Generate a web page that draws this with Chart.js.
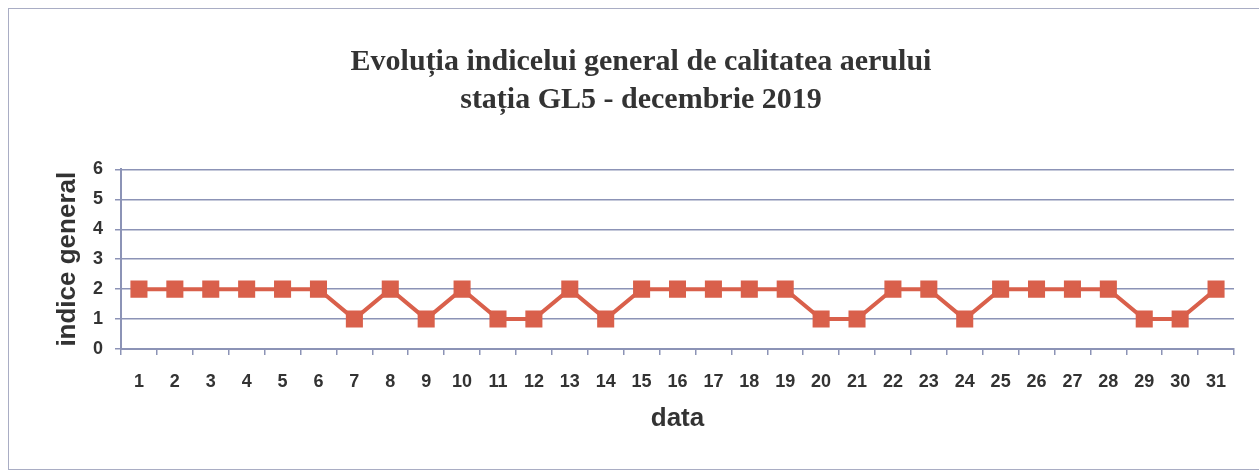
<!DOCTYPE html>
<html>
<head>
<meta charset="utf-8">
<script src="https://cdn.jsdelivr.net/npm/chart.js@4/dist/chart.umd.min.js"></script>
<style>
    body { margin: 0; background: #fff; overflow: hidden; }
    .frame {
        position: absolute;
        left: 8px;
        top: 8px;
        width: 1262px;
        height: 460px;
        border: 1px solid #a9adc4;
    }
</style>
</head>
<body>
<div class="frame"><canvas id="chart" width="1262" height="460"></canvas></div>
<script>
const days = ["1", "2", "3", "4", "5", "6", "7", "8", "9", "10", "11", "12", "13", "14", "15", "16",
    "17", "18", "19", "20", "21", "22", "23", "24", "25", "26", "27", "28", "29", "30", "31"];
const indiceGeneral = [2, 2, 2, 2, 2, 2, 1, 2, 1, 2, 1, 1, 2, 1, 2, 2,
    2, 2, 2, 1, 1, 2, 2, 1, 2, 2, 2, 2, 1, 1, 2];
const titleLines = ["Evoluția indicelui general de calitatea aerului", "stația GL5 - decembrie 2019"];

const gridColor = '#8c93b6';
const textColor = '#333333';
const lineColor = '#d9604b';

const ctx = document.getElementById('chart');

// left padding only serves to center the title like the original
new Chart(ctx, {
    type: 'line',
    data: {
        labels: days,
        datasets: [{
            label: 'indice general',
            data: indiceGeneral,
            borderColor: lineColor,
            backgroundColor: lineColor,
            borderWidth: 4,
            pointStyle: 'rect',
            pointRadius: 11,
            pointHoverRadius: 11,
            pointBorderWidth: 1.5,
            tension: 0
        }]
    },
    options: {
        responsive: false,
        animation: false,
        layout: { padding: { left: 39, right: 37, top: 0, bottom: 0 } },
        plugins: {
            legend: { display: false },
            tooltip: { enabled: false },
            title: {
                display: true,
                text: titleLines,
                color: textColor,
                font: { family: 'Liberation Serif', size: 30, weight: 'bold', lineHeight: 1.24 },
                padding: { top: 35, bottom: 51 }
            }
        },
        scales: {
            x: {
                offset: true,
                grid: {
                    offset: true,
                    drawOnChartArea: false,
                    drawTicks: true,
                    tickLength: 6,
                    color: gridColor,
                    lineWidth: 1.5
                },
                border: { color: gridColor, width: 2 },
                ticks: {
                    color: textColor,
                    padding: 16,
                    maxRotation: 0,
                    autoSkip: false,
                    font: { family: 'Liberation Sans', size: 18, weight: 'bold' }
                },
                title: {
                    display: true,
                    text: 'data',
                    color: textColor,
                    font: { family: 'Liberation Sans', size: 26, weight: 'bold' },
                    padding: { top: 0, bottom: 35 }
                },
                afterFit: function (scale) { scale.height = 120; }
            },
            y: {
                min: 0,
                max: 6,
                ticks: {
                    stepSize: 1,
                    color: textColor,
                    padding: 12,
                    font: { family: 'Liberation Sans', size: 18, weight: 'bold' }
                },
                grid: {
                    color: gridColor,
                    lineWidth: 1.5,
                    tickLength: 6
                },
                border: { color: gridColor, width: 2 },
                title: {
                    display: true,
                    text: 'indice general',
                    color: textColor,
                    font: { family: 'Liberation Sans', size: 26, weight: 'bold' },
                    padding: { top: 4, bottom: 0 }
                },
                afterFit: function (scale) { scale.width = 73; }
            }
        }
    }
});
</script>
</body>
</html>
